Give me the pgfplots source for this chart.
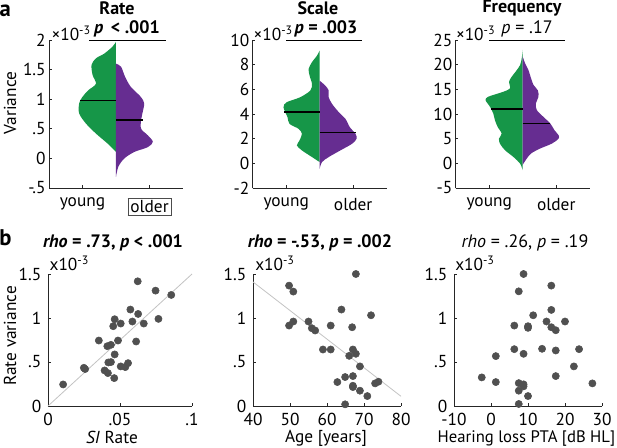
\documentclass[border=0pt]{standalone}
\usepackage{fontspec}
\setmainfont{PT Sans}
\usepackage{pgfplots}
\pgfplotsset{compat=1.18}

\definecolor{vgreen}{RGB}{22,150,72}
\definecolor{vpurple}{RGB}{102,45,145}
\definecolor{dots}{RGB}{80,80,80}
\definecolor{fitline}{RGB}{195,195,195}
\setlength{\fboxsep}{1.5pt}
\setlength{\fboxrule}{0.6pt}

\newcommand{\fs}{\fontsize{13}{15}\selectfont}
\newcommand{\ft}{\fontsize{13.5}{16}\selectfont}

\pgfplotsset{
  base/.style={scale only axis, anchor=south west, clip=false,
    axis x line*=bottom, axis y line*=left,
    axis line style={black!85, line width=0.6pt},
    tick align=inside, major tick length=2pt,
    tick style={black!85, line width=0.5pt},
    tick label style={font=\fs}},
  violin/.style={base, width=100.5pt, height=111pt, xmin=0.5, xmax=2.5,
    xtick={1,2}, xticklabel style={yshift=-4pt}, yticklabel style={xshift=1pt}},
  scat/.style={base, height=99pt, ymin=0, ymax=1.5, ytick={0,0.5,1,1.5},
    yticklabels={0,.5,1,1.5}, xticklabel style={yshift=-2pt},
    yticklabel style={xshift=-1.5pt}},
  med/.style={black, line width=1.3pt},
  vg/.style={fill=vgreen, draw=none, smooth, tension=0.5},
  vp/.style={fill=vpurple, draw=none, smooth, tension=0.5},
  pts/.style={only marks, mark=*, mark size=2.7pt, dots},
}

\begin{document}
\begin{tikzpicture}
\path[use as bounding box] (0,0) rectangle (462.75pt,335.25pt);

% ---- row a: split violins
\begin{axis}[violin, at={(36.75pt,194.25pt)}, ymin=-0.5, ymax=2,
  ytick={-0.5,0,0.5,1,1.5,2}, yticklabels={-.5,0,.5,1,1.5,2},
  xticklabels={young,\fcolorbox{black!70}{white}{older}}]
\addplot[vg] coordinates {(1.5,0.11) (1.375,0.25) (1.2,0.42) (1.05,0.59) (0.95,0.76) (0.95,0.93) (1.0,1.04) (1.085,1.15) (1.2,1.26) (1.15,1.41) (1.135,1.58) (1.2,1.69) (1.325,1.77) (1.45,1.89) (1.5,1.97)} -- cycle;
\addplot[vp] coordinates {(1.5,-0.31) (1.535,-0.14) (1.625,0.0) (1.775,0.11) (1.975,0.19) (2.05,0.28) (1.975,0.39) (1.875,0.50) (1.875,0.65) (1.9,0.79) (1.92,0.93) (1.87,1.04) (1.72,1.21) (1.635,1.38) (1.575,1.55) (1.5,1.6)} -- cycle;
\addplot[med] coordinates {(0.965,0.98) (1.5,0.98)};
\addplot[med] coordinates {(1.5,0.65) (1.9,0.65)};
\draw[black, line width=0.6pt] (axis cs:1.1,2) -- (axis cs:2.24,2);
\end{axis}

\begin{axis}[violin, at={(189.5pt,194.25pt)}, ymin=-2, ymax=10,
  ytick={-2,0,2,4,6,8,10}, yticklabels={-2,0,2,4,6,8,10},
  xticklabels={young,older}]
\addplot[vg] coordinates {(1.5,0.1) (1.385,0.51) (1.235,1.05) (1.16,1.45) (1.2,1.86) (1.235,2.4) (1.185,2.8) (1.05,3.2) (1.02,3.74) (0.96,4.55) (1.01,4.96) (1.21,5.36) (1.36,5.9) (1.385,6.44) (1.35,7.1) (1.335,7.65) (1.385,8.2) (1.46,8.73) (1.5,9.14)} -- cycle;
\addplot[vp] coordinates {(1.5,-0.44) (1.535,0.1) (1.635,0.51) (1.81,1.05) (1.985,1.59) (2.05,1.99) (2.035,2.4) (1.95,2.93) (1.885,3.6) (1.785,4.15) (1.685,4.82) (1.635,5.36) (1.635,5.9) (1.585,6.3) (1.5,6.7)} -- cycle;
\addplot[med] coordinates {(0.97,4.15) (1.5,4.15)};
\addplot[med] coordinates {(1.5,2.5) (2.035,2.5)};
\draw[black, line width=0.6pt] (axis cs:1.0,10) -- (axis cs:2.13,10);
\end{axis}

\begin{axis}[violin, at={(341.8pt,194.25pt)}, ymin=-5, ymax=25,
  ytick={-5,0,5,10,15,20,25}, yticklabels={-5,0,5,10,15,20,25},
  xticklabels={young,older}]
\addplot[vg] coordinates {(1.5,-1.4) (1.46,-0.05) (1.36,1.3) (1.235,2.66) (1.16,4.0) (1.145,5.0) (1.185,6.04) (1.125,7.4) (1.085,8.75) (1.06,10.1) (1.01,11.5) (0.945,12.8) (0.985,13.5) (1.21,14.5) (1.31,15.2) (1.295,16.5) (1.335,17.55) (1.395,18.6) (1.46,19.9) (1.485,21.3) (1.5,23)} -- cycle;
\addplot[vp] coordinates {(1.5,-0.3) (1.51,-0.05) (1.56,0.96) (1.625,2.0) (1.76,3.0) (1.935,4.0) (2.035,5.0) (2.035,5.7) (1.975,6.7) (1.91,8.1) (1.81,9.4) (1.71,10.8) (1.695,12.1) (1.735,13.5) (1.725,14.8) (1.66,15.9) (1.625,17.2) (1.585,18.9) (1.535,20.3) (1.5,21.6)} -- cycle;
\addplot[med] coordinates {(1.03,11.0) (1.5,11.0)};
\addplot[med] coordinates {(1.5,8.07) (1.91,8.07)};
\draw[black, line width=0.6pt] (axis cs:1.0,25) -- (axis cs:2.13,25);
\end{axis}

% ---- row b: scatter
\begin{axis}[scat, at={(36pt,30.75pt)}, width=108pt, xmin=0, xmax=0.1,
  xtick={0,0.05,0.1}, xticklabels={0,.05,.1}]
\addplot[fitline, line width=0.6pt] coordinates {(0,0) (0.1,1.5)};
\addplot[pts] coordinates {(0.0105,0.245) (0.0249,0.434) (0.0258,0.42) (0.0353,0.744) (0.0412,0.68) (0.0437,0.695) (0.0486,0.744) (0.0463,0.586) (0.0463,0.986) (0.0453,0.907) (0.0505,0.937) (0.0419,0.495) (0.0437,0.499) (0.0393,0.404) (0.0416,0.374) (0.046,0.317) (0.0505,0.45) (0.0537,0.442) (0.0556,0.487) (0.0572,1.096) (0.0586,0.96) (0.0626,1.046) (0.0623,1.417) (0.0665,0.937) (0.0612,0.733) (0.0747,1.311) (0.0767,0.99) (0.0856,1.262)};
\end{axis}

\begin{axis}[scat, at={(189.75pt,30.75pt)}, width=111pt, xmin=40, xmax=80,
  xtick={40,50,60,70,80}, xticklabels={40,50,60,70,80}]
\addplot[fitline, line width=0.6pt] coordinates {(40,1.41) (80,0.11)};
\addplot[pts] coordinates {(49.75,1.368) (50.9,1.30) (49.75,0.914) (50.9,0.96) (55,0.96) (55.9,0.884) (56.8,0.858) (58.9,0.642) (61,0.642) (61,0.914) (63.9,1.096) (67.8,1.5) (66.8,0.895) (67,0.642) (66,0.57) (67.8,0.593) (68.9,0.45) (71.9,1.031) (64.9,0.329) (67,0.34) (67,0.23) (67,0.215) (62.8,0.272) (68.9,0.174) (70.9,0.113) (73,0.257) (73.9,0.276) (64.9,0.019)};
\end{axis}

\begin{axis}[scat, at={(340.5pt,30.75pt)}, width=111pt, xmin=-10, xmax=30,
  xtick={-10,0,10,20,30}, xticklabels={-10,0,10,20,30}]
\addplot[pts] coordinates {(8.8,1.5) (16.3,1.368) (7.5,1.303) (16.3,1.092) (11.4,1.031) (6.3,0.914) (10,0.907) (10,0.888) (15,0.96) (20,0.96) (16.3,0.895) (17.5,0.861) (6.3,0.646) (8.8,0.593) (13.8,0.65) (17.5,0.631) (23.8,0.646) (1.3,0.567) (22.4,0.45) (-2.5,0.325) (1.3,0.272) (17.5,0.34) (7.5,0.26) (8.8,0.246) (8.8,0.223) (7.5,0.174) (10,0.113) (7.5,0.023) (27.4,0.257)};
\end{axis}

% ---- text
\node[font=\fontsize{17}{19}\selectfont\bfseries] at (4pt,327pt) {a};
\node[font=\fontsize{17}{19}\selectfont\bfseries] at (4pt,157pt) {b};
\node[font=\ft\bfseries] at (87.75pt,329pt) {Rate};
\node[font=\ft\bfseries] at (238.5pt,329pt) {Scale};
\node[font=\ft\bfseries] at (391.5pt,329pt) {Frequency};
\node[font=\ft\bfseries] at (95.25pt,313.5pt) {\textit{p}\, < .001};
\node[font=\ft\bfseries] at (244.5pt,313.5pt) {\textit{p} = .003};
\node[font=\ft] at (395.25pt,313.5pt) {\textit{p} = .17};
\node[font=\fs, anchor=west, inner sep=0pt] at (38.5pt,310.5pt) {×10\textsuperscript{-3}};
\node[font=\fs, anchor=west, inner sep=0pt] at (190pt,310.5pt) {×10\textsuperscript{-3}};
\node[font=\fs, anchor=west, inner sep=0pt] at (341.8pt,310.5pt) {×10\textsuperscript{-3}};
\node[font=\fs, anchor=west, inner sep=0pt] at (37pt,137.8pt) {x10\textsuperscript{-3}};
\node[font=\fs, anchor=west, inner sep=0pt] at (191.25pt,137.8pt) {x10\textsuperscript{-3}};
\node[font=\fs, anchor=west, inner sep=0pt] at (341.25pt,137.8pt) {x10\textsuperscript{-3}};
\node[font=\fs, rotate=90] at (7.5pt,258pt) {Variance};
\node[font=\fs, rotate=90] at (7.5pt,83.25pt) {Rate variance};
\node[font=\ft\bfseries] at (84.75pt,153pt) {\textit{rho} = .73, \textit{p} < .001};
\node[font=\ft\bfseries] at (240pt,153pt) {\textit{rho} = -.53, \textit{p} = .002};
\node[font=\ft] at (393.75pt,153pt) {\textit{rho} = .26, \textit{p} = .19};
\node[font=\fs, inner sep=0pt] at (84pt,7.5pt) {\textit{SI} Rate};
\node[font=\fs, inner sep=0pt] at (244.5pt,6.5pt) {Age [years]};
\node[font=\fontsize{12.5}{15}\selectfont, anchor=east, inner sep=0pt] at (461.5pt,6.5pt) {Hearing loss PTA [dB HL]};
\end{tikzpicture}
\end{document}
